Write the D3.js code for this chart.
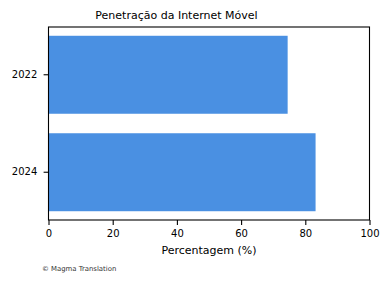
<!DOCTYPE html>
<html>
<head>
<meta charset="utf-8">
<script src="https://cdn.jsdelivr.net/npm/d3@7"></script>
<style>
  body { margin: 0; background: #fff; }
  svg { display: block; font-family: "DejaVu Sans", sans-serif; }
</style>
</head>
<body>
<svg id="chart"></svg>
<script>
// Chart data
const years = ['2022', '2024'];
const penetration = [74.5, 83.2];
const xTicks = [0, 20, 40, 60, 80, 100];

const chartTitle = 'Penetração da Internet Móvel';
const xLabel = 'Percentagem (%)';
const credit = '© Magma Translation';

const width = 390, height = 282;
const margin = { top: 27, right: 20.5, bottom: 62, left: 48.5 };
const innerW = width - margin.left - margin.right;
const innerH = height - margin.top - margin.bottom;

const svg = d3.select('#chart')
  .attr('width', width)
  .attr('height', height);

const g = svg.append('g')
  .attr('transform', `translate(${margin.left},${margin.top})`);

const x = d3.scaleLinear()
  .domain([0, 100])
  .range([0, innerW]);

// matplotlib-like layout: bar height 0.8, 5% margins
const y = d3.scaleBand()
  .domain(years)
  .range([0, innerH])
  .paddingInner(0.2)
  .paddingOuter(0.09);

// bars
g.selectAll('.bar')
  .data(years.map((yr, i) => ({ year: yr, value: penetration[i] })))
  .enter().append('rect')
  .attr('class', 'bar')
  .attr('x', x(0))
  .attr('y', d => y(d.year))
  .attr('width', d => x(d.value) - x(0))
  .attr('height', y.bandwidth())
  .attr('fill', '#4a90e2');

// axes
const xAxis = g.append('g')
  .attr('transform', `translate(0,${innerH})`)
  .call(d3.axisBottom(x).tickValues(xTicks).tickSize(4.9).tickPadding(5).tickFormat(d3.format('d')));

const yAxis = g.append('g')
  .call(d3.axisLeft(y).tickSize(4.9).tickPadding(6.3));

[xAxis, yAxis].forEach(a => {
  a.attr('font-family', '"DejaVu Sans", sans-serif').attr('font-size', 10);
  a.select('.domain').remove();
  a.selectAll('.tick line').attr('stroke', '#000').attr('stroke-width', 1.1);
  a.selectAll('.tick text').attr('fill', '#000');
});

// frame
g.append('rect')
  .attr('x', 0)
  .attr('y', 0)
  .attr('width', innerW)
  .attr('height', innerH)
  .attr('fill', 'none')
  .attr('stroke', '#000')
  .attr('stroke-width', 1.1);

// texts
svg.append('text')
  .attr('x', 176.5)
  .attr('y', 19)
  .attr('text-anchor', 'middle')
  .style('font-size', '11px')
  .text(chartTitle);

svg.append('text')
  .attr('x', margin.left + innerW / 2)
  .attr('y', 254)
  .attr('text-anchor', 'middle')
  .style('font-size', '11px')
  .text(xLabel);

svg.append('text')
  .attr('x', 42)
  .attr('y', 271)
  .style('font-size', '6.9px')
  .attr('fill', '#333')
  .text(credit);
</script>
</body>
</html>
